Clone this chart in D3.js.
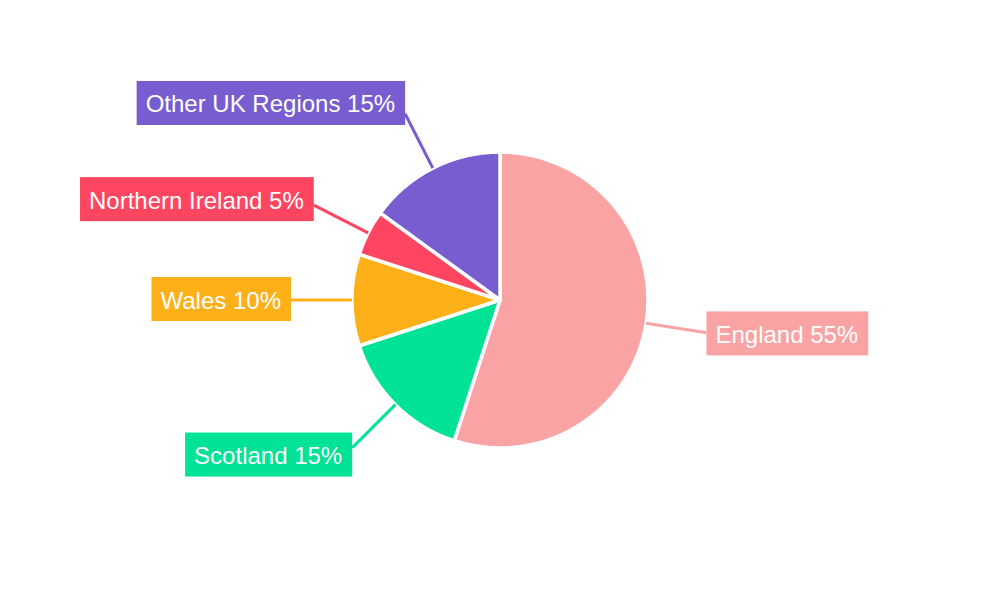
<!DOCTYPE html>
<html><head><meta charset="utf-8">
<script src="https://cdn.jsdelivr.net/npm/d3@7"></script>
<style>body{margin:0;background:#fff}svg{display:block}</style>
</head><body>
<svg id="chart" width="1000" height="600"></svg>
<script>
const categories = ["England", "Scotland", "Wales", "Northern Ireland", "Other UK Regions"];
const values = [55, 15, 10, 5, 15];
const colors = ["#F9A3A4", "#00E396", "#FEB019", "#FF4560", "#775DD0"];

const W = 1000, H = 600, cx = 500, cy = 300, R = 148, lineR = 209;
const svg = d3.select("#chart");
const g = svg.append("g").attr("transform", `translate(${cx},${cy})`);

const total = d3.sum(values);
const pie = d3.pie().sort(null).value(d => d.v);
const data = pie(categories.map((c, i) => ({c, v: values[i], col: colors[i]})));
const arc = d3.arc().innerRadius(0).outerRadius(R);

g.selectAll("path.slice").data(data).join("path")
  .attr("class", "slice")
  .attr("d", arc)
  .attr("fill", d => d.data.col)
  .attr("stroke", "#fff")
  .attr("stroke-width", 3.5)
  .attr("stroke-linejoin", "round");

const fmt = d => `${d.data.c} ${Math.round(d.data.v / total * 100)}%`;

data.forEach(d => {
  const a = (d.startAngle + d.endAngle) / 2;
  const dx = Math.sin(a), dy = -Math.cos(a);
  const x1 = dx * R, y1 = dy * R;
  const x2 = dx * lineR, y2 = dy * lineR;
  const right = dx > 0.01;
  g.append("line")
    .attr("x1", x1).attr("y1", y1).attr("x2", x2).attr("y2", y2)
    .attr("stroke", d.data.col).attr("stroke-width", 3);
  const lg = g.append("g");
  const rect = lg.append("rect").attr("fill", d.data.col);
  const t = lg.append("text")
    .attr("font-family", "Liberation Sans, Arial, sans-serif")
    .attr("font-size", 24)
    .attr("fill", "#fff")
    .attr("dominant-baseline", "central")
    .text(fmt(d));
  const tw = t.node().getComputedTextLength();
  const padL = 9, padR = 10, bh = 44;
  const bw = tw + padL + padR;
  const bx = right ? x2 : x2 - bw;
  const by = y2 + 11 * dy - 1 - bh / 2;
  rect.attr("x", bx).attr("y", by).attr("width", bw).attr("height", bh);
  t.attr("x", bx + padL).attr("y", by + bh / 2 + 1);
});
</script>
</body></html>
